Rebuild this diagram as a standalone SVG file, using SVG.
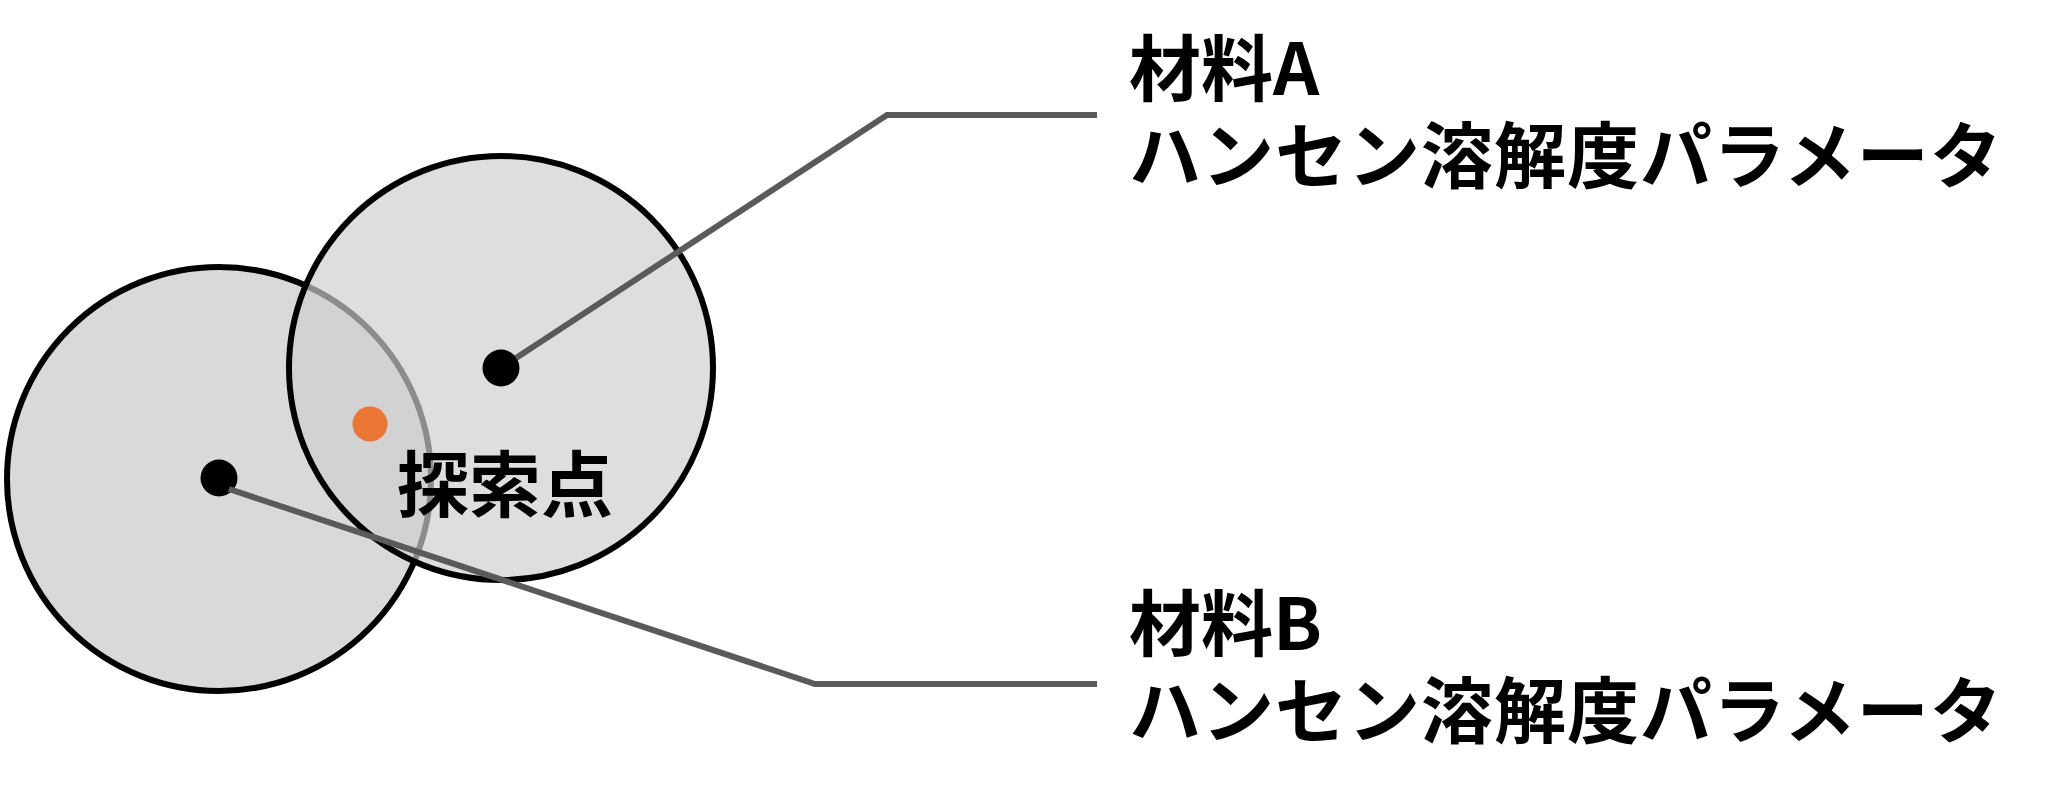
<svg xmlns="http://www.w3.org/2000/svg" width="2057" height="802" viewBox="0 0 2057 802">
  <style>
    .circle { stroke: #000000; stroke-width: 6; }
    .dot { fill: #000000; }
    .conn { fill: none; stroke: #5A5A5A; stroke-width: 6; stroke-linejoin: miter; }
    .label { font-family: "Noto Sans CJK JP", "Noto Sans CJK SC", sans-serif; font-weight: 700; font-size: 72px; fill: #000000; }
  </style>
  <rect x="0" y="0" width="2057" height="802" fill="#FFFFFF"/>
  <g id="circle-b">
    <circle class="circle" cx="219" cy="479" r="212" fill="#D9D9D9"/>
  </g>
  <g id="circle-a">
    <circle class="circle" cx="501" cy="368" r="212" fill="#CFCFCF" fill-opacity="0.68"/>
  </g>
  <g id="dot-a">
    <circle class="dot" cx="501" cy="368" r="18.5"/>
  </g>
  <g id="dot-b">
    <circle class="dot" cx="219" cy="478" r="18.5"/>
  </g>
  <g id="search-point">
    <circle cx="370" cy="424" r="17.5" fill="#EB7533"/>
    <text class="label" x="397" y="511">探索点</text>
  </g>
  <g id="connectors">
    <polyline class="conn" points="516,358 887,115 1097,115"/>
    <polyline class="conn" points="229,489 815,684 1097,684"/>
  </g>
  <g id="label-a">
    <text class="label" x="1129" y="95">材料A</text>
    <text class="label" x="1129" y="182" letter-spacing="1">ハンセン溶解度パラメータ</text>
  </g>
  <g id="label-b">
    <text class="label" x="1129" y="650">材料B</text>
    <text class="label" x="1129" y="737" letter-spacing="1">ハンセン溶解度パラメータ</text>
  </g>
</svg>
